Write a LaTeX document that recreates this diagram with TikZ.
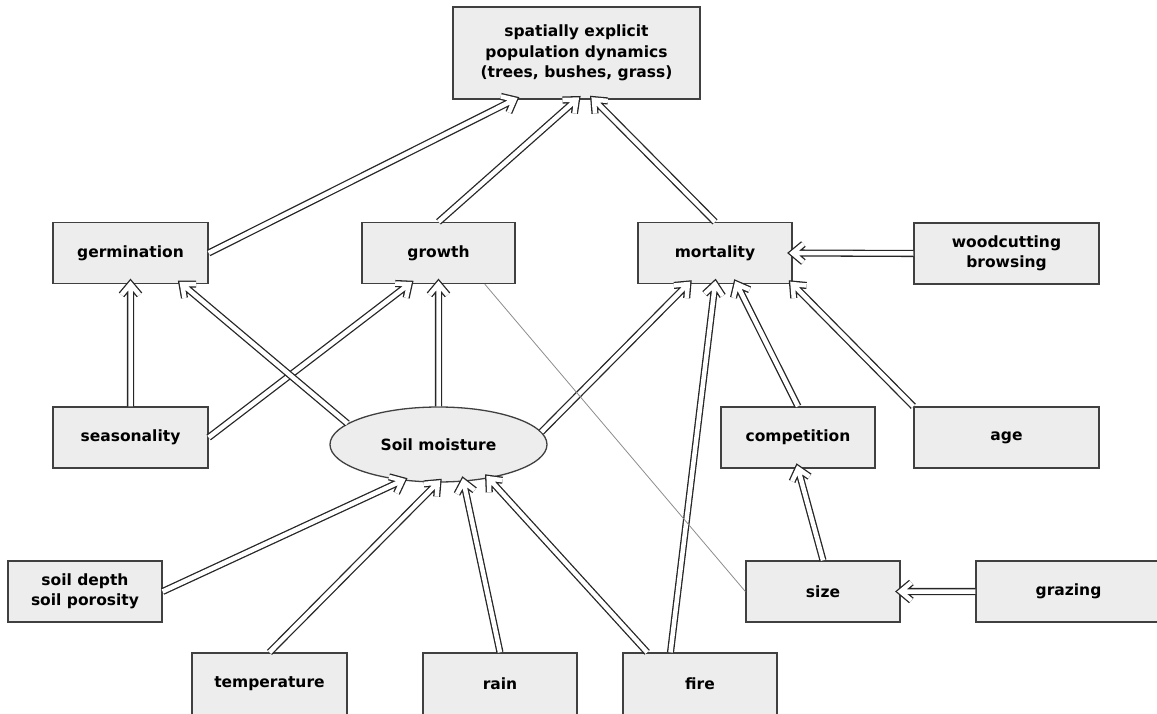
\documentclass[tikz,border=0pt]{standalone}
\usepackage{fontspec}
\setmainfont{DejaVu Sans}
\usetikzlibrary{shapes.geometric,calc}
\begin{document}
\begin{tikzpicture}[x=1bp,y=-1bp,
  box/.style={draw=black!75, line width=1.3bp, fill=black!7, minimum width=154bp, minimum height=61bp, inner sep=2bp, align=center, font=\fontsize{15.5bp}{20.5bp}\selectfont\bfseries},
  wbox/.style={box, minimum width=185bp},
  dar/.style={draw=black!85, line width=1.3bp, double=white, double distance=4.5bp, line join=miter,
    to path={(\tikztostart) -- (\tikztotarget)
      ($(\tikztotarget)!14bp!40:(\tikztostart)$) -- (\tikztotarget) -- ($(\tikztotarget)!14bp!-40:(\tikztostart)$)}},
  thinline/.style={draw=black!45, line width=0.8bp}
]
\useasboundingbox (0,0) rectangle (1157,714);

\node[box, minimum width=247bp, minimum height=92bp] (top) at (576.5,53) {spatially explicit\\population dynamics\\(trees, bushes, grass)};
\node[box, minimum width=155bp] (germ) at (130.5,253) {germination};
\node[box, minimum width=153bp] (growth) at (438.5,253) {growth};
\node[box] (mort) at (715,253) {mortality};
\node[wbox] (wood) at (1006.5,253.5) {woodcutting\\browsing};
\node[box, minimum width=155bp] (seas) at (130.5,437.5) {seasonality};
\node[box, ellipse, minimum width=217bp, minimum height=75bp, inner sep=0pt] (sm) at (438.5,444.5) {Soil moisture};
\node[box] (comp) at (798,437.5) {competition};
\node[wbox] (age) at (1006.5,437.5) {age};
\node[box] (soil) at (85,591.5) {soil depth\\soil porosity};
\node[box] (size) at (823,591.5) {size};
\node[wbox] (graz) at (1068.5,591.5) {grazing};
\node[box, minimum width=155bp, minimum height=62bp] (temp) at (269.5,684) {temperature};
\node[box, minimum height=62bp] (rain) at (500,684) {rain};
\node[box, minimum height=62bp] (fire) at (700,684) {fire};

\coordinate (topA) at ($(top.south west)!0.25!(top.south east)$);
\coordinate (topC) at ($(top.south west)!0.57!(top.south east)$);
\coordinate (growthA) at ($(growth.south west)!0.31!(growth.south east)$);
\coordinate (growthB) at ($(growth.south west)!0.8!(growth.south east)$);
\coordinate (germB) at ($(germ.south west)!0.83!(germ.south east)$);
\coordinate (mortA) at ($(mort.south west)!0.325!(mort.south east)$);
\coordinate (mortC) at ($(mort.south west)!0.64!(mort.south east)$);
\coordinate (fireA) at ($(fire.north west)!0.16!(fire.north east)$);
\coordinate (fireB) at ($(fire.north west)!0.31!(fire.north east)$);

\draw[dar] (germ.east) to (topA);
\draw[dar] (growth.north) to (top.south);
\draw[dar] (mort.north) to (topC);
\draw[dar] (wood.west) to (mort.east);
\draw[dar] (seas.north) to (germ.south);
\draw[dar] (seas.east) to (growthA);
\draw[dar] (sm.167) to (germB);
\draw[dar] (sm.north) to (growth.south);
\draw[dar] (sm.7) to (mortA);
\draw[dar] (fireB) to (mort.south);
\draw[dar] (comp.north) to (mortC);
\draw[dar] (age.north west) to (mort.south east);
\draw[dar] (size.north) to (comp.south);
\draw[dar] (graz.west) to (size.east);
\draw[dar] (soil.east) to (sm.225);
\draw[dar] (temp.north) to (sm.269);
\draw[dar] (rain.north) to (sm.304);
\draw[dar] (fireA) to (sm.326);
\draw[thinline] (growthB) -- (size.west);
\end{tikzpicture}
\end{document}
